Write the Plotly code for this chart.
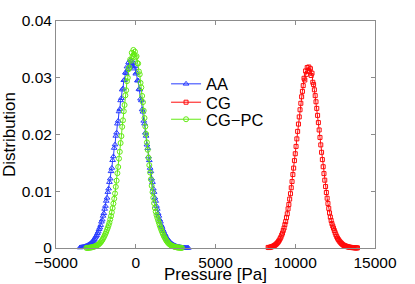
import plotly.graph_objects as go

# ---------------- data ----------------
aa_x = [-3500, -3450, -3400, -3350, -3300, -3250, -3200, -3150, -3100, -3050,
        -3000, -2950, -2900, -2850, -2800, -2750, -2700, -2650, -2600, -2550,
        -2500, -2450, -2400, -2350, -2300, -2250, -2200, -2150, -2100, -2050,
        -2000, -1950, -1900, -1850, -1800, -1750, -1700, -1650, -1600, -1550,
        -1500, -1450, -1400, -1350, -1300, -1250, -1200, -1150, -1100, -1050,
        -1000, -950, -900, -850, -800, -750, -700, -650, -600, -550,
        -500, -450, -400, -350, -300, -250, -200, -150, -100, -50,
        0, 50, 100, 150, 200, 250, 300, 350, 400, 450,
        500, 550, 600, 650, 700, 750, 800, 850, 900, 950,
        1000, 1050, 1100, 1150, 1200, 1250, 1300, 1350, 1400, 1450,
        1500, 1550, 1600, 1650, 1700, 1750, 1800, 1850, 1900, 1950,
        2000, 2050, 2100, 2150, 2200, 2250, 2300, 2350, 2400, 2450,
        2500, 2550, 2600, 2650, 2700, 2750, 2800, 2850, 2900, 2950,
        3000, 3050, 3100, 3150, 3200, 3250, 3300]
aa_y = [0.00009, 0.00011, 0.00013, 0.00015, 0.00019, 0.00021, 0.00025, 0.00031, 0.00035, 0.00040,
        0.00050, 0.00057, 0.00065, 0.00078, 0.00088, 0.00101, 0.00119, 0.00134, 0.00152, 0.00180,
        0.00202, 0.00226, 0.00259, 0.00288, 0.00330, 0.00360, 0.00403, 0.00462, 0.00499, 0.00566,
        0.00611, 0.00688, 0.00740, 0.00829, 0.00884, 0.00985, 0.01046, 0.01160, 0.01222, 0.01351,
        0.01410, 0.01547, 0.01613, 0.01762, 0.01822, 0.01975, 0.02031, 0.02190, 0.02240, 0.02405,
        0.02448, 0.02600, 0.02640, 0.02790, 0.02810, 0.02956, 0.02960, 0.03090, 0.03080, 0.03196,
        0.03150, 0.03270, 0.03210, 0.03310, 0.03230, 0.03300, 0.03210, 0.03270, 0.03160, 0.03200,
        0.03070, 0.03090, 0.02950, 0.02950, 0.02800, 0.02790, 0.02630, 0.02600, 0.02440, 0.02400,
        0.02240, 0.02190, 0.02030, 0.01975, 0.01820, 0.01760, 0.01610, 0.01545, 0.01410, 0.01350,
        0.01220, 0.01160, 0.01045, 0.00985, 0.00885, 0.00828, 0.00740, 0.00688, 0.00611, 0.00566,
        0.00499, 0.00462, 0.00403, 0.00370, 0.00322, 0.00295, 0.00253, 0.00232, 0.00198, 0.00179,
        0.00152, 0.00137, 0.00116, 0.00104, 0.00087, 0.00077, 0.00067, 0.00056, 0.00049, 0.00042,
        0.00034, 0.00030, 0.00026, 0.00021, 0.00018, 0.00016, 0.00013, 0.00011, 0.00009, 0.00007,
        0.00006, 0.00005, 0.00004, 0.00003, 0.00003, 0.00002, 0.00002]

cg_x = [8300, 8350, 8400, 8450, 8500, 8550, 8600, 8650, 8700, 8750,
        8800, 8850, 8900, 8950, 9000, 9050, 9100, 9150, 9200, 9250,
        9300, 9350, 9400, 9450, 9500, 9550, 9600, 9650, 9700, 9750,
        9800, 9850, 9900, 9950, 10000, 10050, 10100, 10150, 10200, 10250,
        10300, 10350, 10400, 10450, 10500, 10550, 10600, 10650, 10700, 10750,
        10800, 10850, 10900, 10950, 11000, 11050, 11100, 11150, 11200, 11250,
        11300, 11350, 11400, 11450, 11500, 11550, 11600, 11650, 11700, 11750,
        11800, 11850, 11900, 11950, 12000, 12050, 12100, 12150, 12200, 12250,
        12300, 12350, 12400, 12450, 12500, 12550, 12600, 12650, 12700, 12750,
        12800, 12850, 12900, 12950, 13000, 13050, 13100, 13150, 13200, 13250,
        13300, 13350, 13400, 13450, 13500, 13550, 13600, 13650, 13700, 13750,
        13800, 13850, 13900]
cg_y = [0.00010, 0.00008, 0.00012, 0.00015, 0.00019, 0.00025, 0.00030, 0.00037, 0.00045, 0.00055,
        0.00066, 0.00081, 0.00096, 0.00116, 0.00137, 0.00164, 0.00191, 0.00228, 0.00262, 0.00310,
        0.00353, 0.00412, 0.00465, 0.00536, 0.00603, 0.00690, 0.00767, 0.00862, 0.00957, 0.01062,
        0.01171, 0.01294, 0.01408, 0.01540, 0.01661, 0.01790, 0.01923, 0.02055, 0.02184, 0.02310,
        0.02436, 0.02550, 0.02665, 0.02760, 0.02862, 0.02990, 0.02960, 0.03120, 0.03060, 0.03180,
        0.03120, 0.03190, 0.03110, 0.03160, 0.03040, 0.03080, 0.02920, 0.02880, 0.02788, 0.02685,
        0.02577, 0.02460, 0.02337, 0.02210, 0.02080, 0.01948, 0.01817, 0.01686, 0.01558, 0.01432,
        0.01311, 0.01195, 0.01083, 0.00978, 0.00877, 0.00785, 0.00698, 0.00618, 0.00545, 0.00485,
        0.00430, 0.00388, 0.00350, 0.00308, 0.00270, 0.00233, 0.00200, 0.00173, 0.00150, 0.00128,
        0.00110, 0.00094, 0.00080, 0.00066, 0.00055, 0.00047, 0.00040, 0.00035, 0.00030, 0.00025,
        0.00020, 0.00017, 0.00015, 0.00012, 0.00010, 0.00008, 0.00007, 0.00006, 0.00005, 0.00004,
        0.00003, 0.00002, 0.00002]

pc_x = [-3100, -3050, -3000, -2950, -2900, -2850, -2800, -2750, -2700, -2650,
        -2600, -2550, -2500, -2450, -2400, -2350, -2300, -2250, -2200, -2150,
        -2100, -2050, -2000, -1950, -1900, -1850, -1800, -1750, -1700, -1650,
        -1600, -1550, -1500, -1450, -1400, -1350, -1300, -1250, -1200, -1150,
        -1100, -1050, -1000, -950, -900, -850, -800, -750, -700, -650,
        -600, -550, -500, -450, -400, -350, -300, -250, -200, -150,
        -100, -50, 0, 50, 100, 150, 200, 250, 300, 350,
        400, 450, 500, 550, 600, 650, 700, 750, 800, 850,
        900, 950, 1000, 1050, 1100, 1150, 1200, 1250, 1300, 1350,
        1400, 1450, 1500, 1550, 1600, 1650, 1700, 1750, 1800, 1850,
        1900, 1950, 2000, 2050, 2100, 2150, 2200, 2250, 2300, 2350,
        2400, 2450, 2500, 2550, 2600, 2650, 2700, 2750, 2800, 2850,
        2900]
pc_y = [0.00002, 0.00002, 0.00003, 0.00004, 0.00006, 0.00008, 0.00010, 0.00012, 0.00015, 0.00020,
        0.00025, 0.00030, 0.00035, 0.00042, 0.00050, 0.00059, 0.00070, 0.00084, 0.00100, 0.00119,
        0.00140, 0.00164, 0.00190, 0.00219, 0.00250, 0.00283, 0.00321, 0.00358, 0.00402, 0.00447,
        0.00503, 0.00562, 0.00628, 0.00703, 0.00782, 0.00868, 0.00961, 0.01078, 0.01186, 0.01318,
        0.01428, 0.01575, 0.01695, 0.01850, 0.01972, 0.02135, 0.02250, 0.02410, 0.02520, 0.02690,
        0.02780, 0.02940, 0.03000, 0.03150, 0.03180, 0.03320, 0.03300, 0.03440, 0.03380, 0.03490,
        0.03410, 0.03460, 0.03360, 0.03380, 0.03260, 0.03250, 0.03110, 0.03060, 0.02910, 0.02830,
        0.02680, 0.02570, 0.02420, 0.02290, 0.02140, 0.02010, 0.01860, 0.01730, 0.01590, 0.01460,
        0.01330, 0.01210, 0.01095, 0.00985, 0.00885, 0.00790, 0.00705, 0.00640, 0.00582, 0.00535,
        0.00490, 0.00445, 0.00400, 0.00360, 0.00320, 0.00285, 0.00250, 0.00218, 0.00190, 0.00165,
        0.00140, 0.00118, 0.00100, 0.00084, 0.00070, 0.00059, 0.00050, 0.00042, 0.00035, 0.00030,
        0.00025, 0.00020, 0.00017, 0.00013, 0.00010, 0.00008, 0.00007, 0.00005, 0.00004, 0.00003,
        0.00002]

x_ticks = [-5000, 0, 5000, 10000, 15000]
x_tick_text = ["\u22125000", "0", "5000", "10000", "15000"]
y_ticks = [0, 0.01, 0.02, 0.03, 0.04]
y_tick_text = ["0", "0.01", "0.02", "0.03", "0.04"]

# ---------------- figure ----------------
FONT = "Liberation Sans, Arial, sans-serif"
BLUE = "rgb(40,60,255)"
RED = "rgb(255,10,10)"
GREEN = "rgb(100,235,20)"

fig = go.Figure()
fig.add_trace(go.Scatter(x=aa_x, y=aa_y, name="AA", mode="lines+markers",
                         line=dict(color=BLUE, width=1),
                         marker=dict(symbol="triangle-up-open", size=5, color=BLUE,
                                     line=dict(width=1)),
                         cliponaxis=False, legend="legend"))
fig.add_trace(go.Scatter(x=cg_x, y=cg_y, name="CG", mode="lines+markers",
                         line=dict(color=RED, width=1),
                         marker=dict(symbol="square-open", size=4, color=RED,
                                     line=dict(width=1)),
                         cliponaxis=False, legend="legend2"))
fig.add_trace(go.Scatter(x=pc_x, y=pc_y, name="CG\u2212PC", mode="lines+markers",
                         line=dict(color=GREEN, width=1),
                         marker=dict(symbol="circle-open", size=5, color=GREEN,
                                     line=dict(width=1)),
                         cliponaxis=False, legend="legend3"))

axis_common = dict(showline=True, linecolor="#8c8c8c", linewidth=1, mirror="ticks",
                   ticks="inside", ticklen=4, tickcolor="#8c8c8c", showgrid=False,
                   zeroline=False, tickfont=dict(family=FONT, size=15.5, color="black"))

fig.update_xaxes(range=[-5000, 15000], tickvals=x_ticks, ticktext=x_tick_text,
                 title=dict(text="Pressure [Pa]", font=dict(family=FONT, size=17, color="black"),
                            standoff=4),
                 **axis_common)
fig.update_yaxes(range=[0, 0.04], tickvals=y_ticks, ticktext=y_tick_text,
                 title=dict(text="Distribution", font=dict(family=FONT, size=17, color="black"),
                            standoff=4),
                 **axis_common)

leg_common = dict(x=0.345, xanchor="left", yanchor="middle",
                  bgcolor="rgba(0,0,0,0)", borderwidth=0,
                  font=dict(family=FONT, size=16.5, color="black"),
                  itemwidth=30)

fig.update_layout(
    width=415, height=284,
    margin=dict(l=56, r=40, t=21, b=36, autoexpand=False),
    paper_bgcolor="white", plot_bgcolor="white",
    font=dict(family=FONT, size=15.5, color="black"),
    showlegend=True,
    legend=dict(y=0.722, **leg_common),
    legend2=dict(y=0.641, **leg_common),
    legend3=dict(y=0.566, **leg_common),
)

fig.write_html("out.html", config={"displayModeBar": False},
               post_script="document.body.style.margin='0';document.body.style.padding='0';")
